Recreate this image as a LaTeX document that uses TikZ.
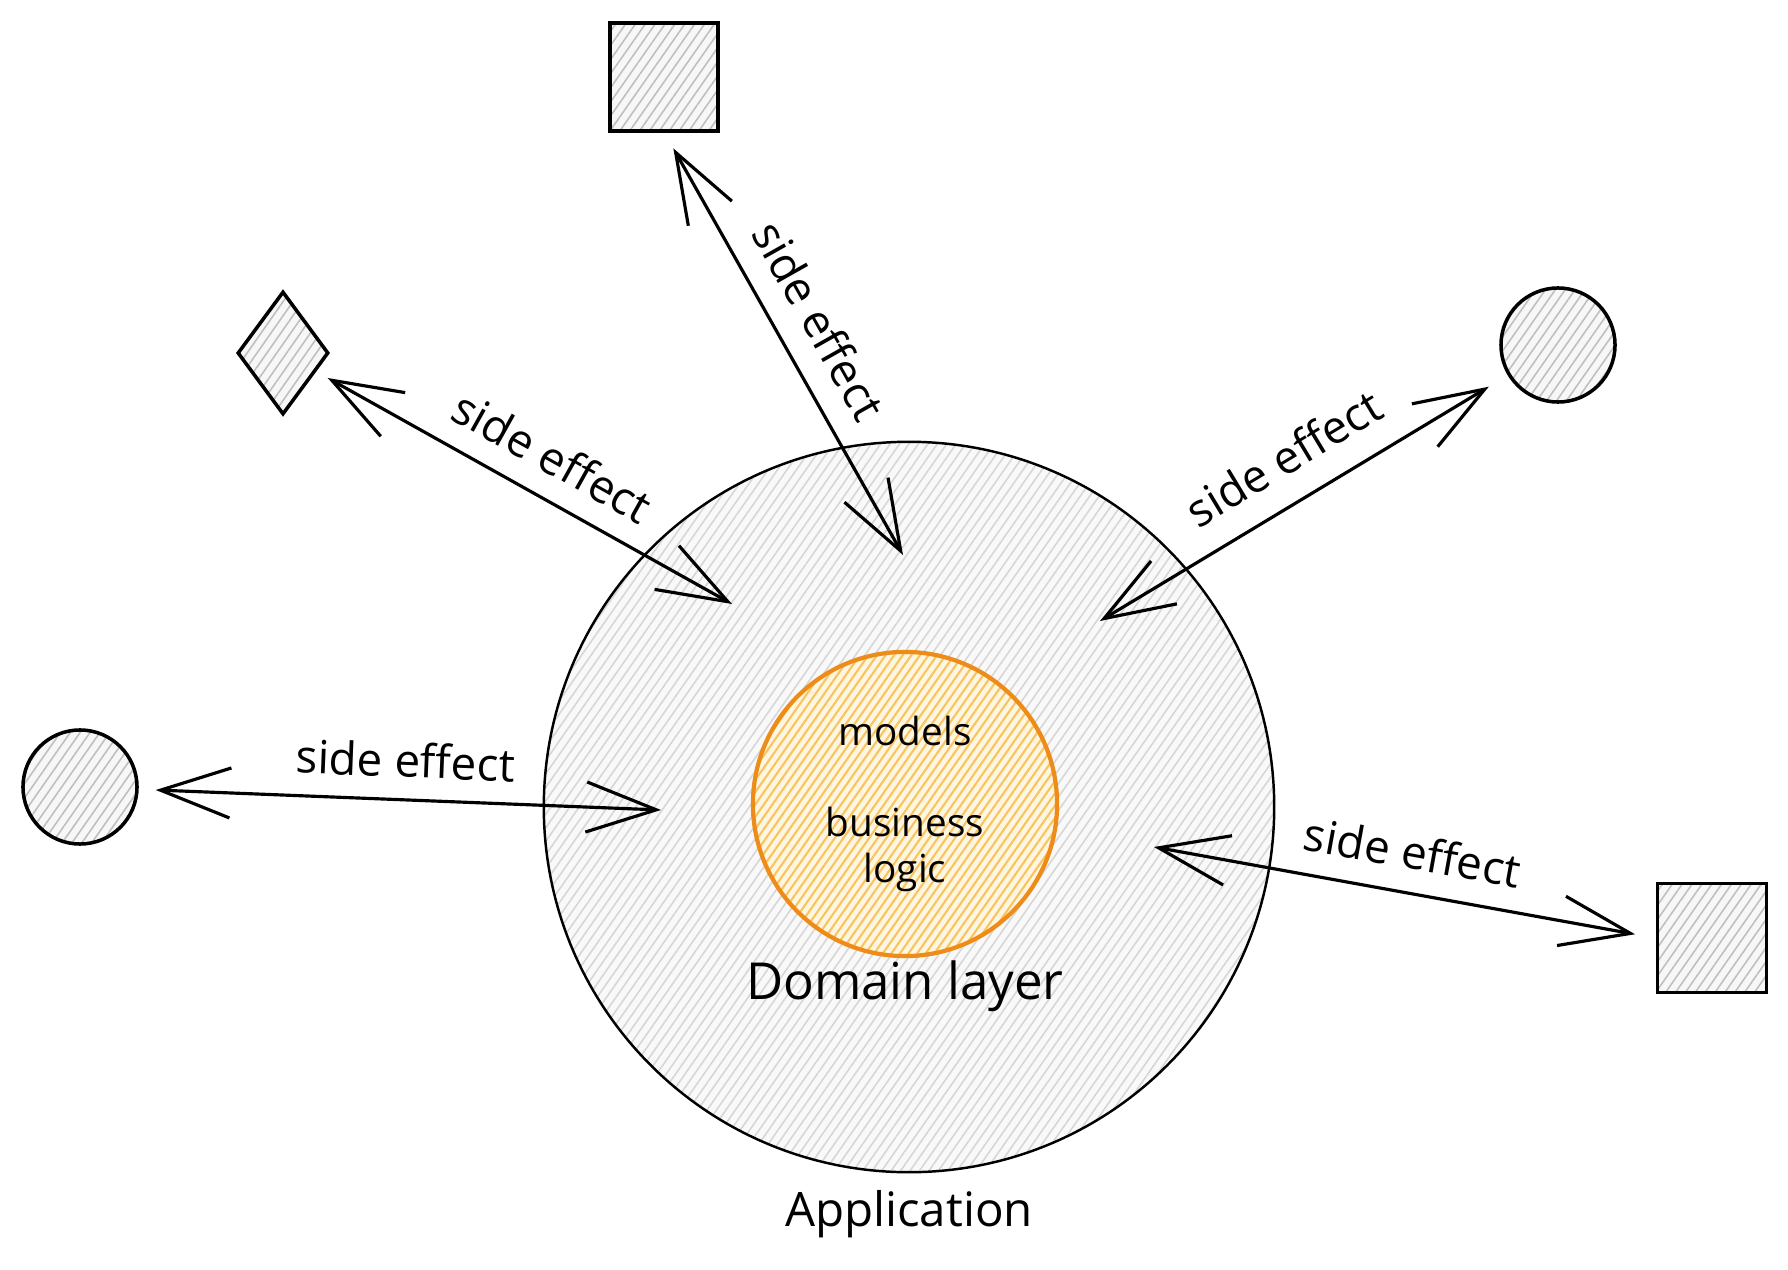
\documentclass[tikz,border=0pt]{standalone}
\usepackage{fontspec}
\setmainfont{Open Sans}
\usetikzlibrary{shapes.geometric, positioning, arrows.meta, patterns.meta}

\definecolor{coreline}{RGB}{238,140,25}
\definecolor{corehatch}{RGB}{248,196,95}
\definecolor{corefill}{RGB}{255,246,226}

\begin{document}
\begin{tikzpicture}[
    x=0.01cm, y=-0.01cm,
    every node/.style={font=\fontsize{13}{15}\selectfont},
    outer/.style={
        circle, draw, line width=0.7pt,
        minimum size=7.3cm, inner sep=0pt,
        preaction={fill=gray!5},
        pattern={Lines[angle=55, distance=2.2pt, line width=0.45pt]},
        pattern color=gray!32
    },
    core/.style={
        circle, draw=coreline, line width=1.2pt,
        minimum size=3.04cm, inner sep=0pt, align=center,
        font=\fontsize{11}{13.2}\selectfont,
        preaction={fill=corefill},
        pattern={Lines[angle=55, distance=2pt, line width=0.6pt]},
        pattern color=corehatch
    },
    thing/.style={
        draw, line width=1pt, inner sep=0pt,
        preaction={fill=gray!6},
        pattern={Lines[angle=55, distance=2.3pt, line width=0.45pt]},
        pattern color=gray!50
    },
    effect/.style={
        {Straight Barb[length=7mm, width=5mm]}-{Straight Barb[length=7mm, width=5mm]},
        line width=0.9pt
    },
    lbl/.style={sloped},
    title/.style={font=\fontsize{14.5}{17}\selectfont}
]

\path[fill=white] (0,0) rectangle (1788,1270);

% --- Application and domain ---
\node[outer] (app) at (909,807) {};
\node[core] (dom) at (905,804) {models\\[0.45cm]business\\logic};
\node[title, below=-0.09cm of dom] (domlbl) {Domain layer};
\node[title, font=\fontsize{13.5}{16}\selectfont, below=0.05cm of app] (applbl) {Application};

% --- Outside things ---
\node[thing, minimum size=1.08cm] (box1) at (664,77) {};
\node[thing, diamond, minimum width=0.91cm, minimum height=1.23cm] (gem) at (283,353) {};
\node[thing, circle, minimum size=1.14cm] (ball1) at (1558,345) {};
\node[thing, circle, minimum size=1.14cm] (ball2) at (80,787) {};
\node[thing, minimum size=1.09cm] (box2) at (1712,938) {};

% inner ends of the side effects
\coordinate (in1) at (903,555);
\coordinate (in2) at (732,604);
\coordinate (in3) at (1100,621);
\coordinate (in4) at (661,810);
\coordinate (in5) at (1154,847);

% --- Side effects ---
\draw[effect, shorten <=0.19cm] (box1.south) -- node[lbl, pos=0.495, above=3.3pt] {side effect} (in1);
\draw[effect, shorten <=0.13cm] (gem) -- node[lbl, pos=0.52, above=2.9pt] {side effect} (in2);
\draw[effect, shorten >=0.22cm] (in3) -- node[lbl, pos=0.507, above=4pt] {side effect} (ball1);
\draw[effect, shorten <=0.17cm] (ball2) -- node[lbl, pos=0.508, above=2.5pt] {side effect} (in4);
\draw[effect, shorten >=0.21cm] (in5) -- node[lbl, pos=0.501, above=3pt] {side effect} (box2.west);

\end{tikzpicture}
\end{document}
